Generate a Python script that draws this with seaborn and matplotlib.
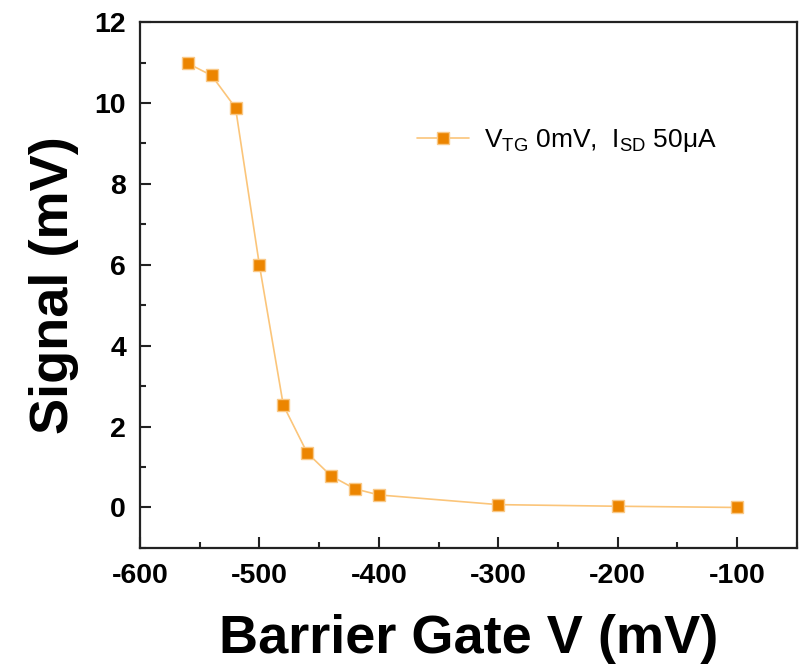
import matplotlib
matplotlib.use("Agg")
import matplotlib.pyplot as plt
import seaborn as sns
import pandas as pd
from matplotlib.ticker import MultipleLocator

# Barrier gate sweep: detector signal vs. gate voltage
gate_mv = [-560, -540, -520, -500, -480, -460, -440, -420, -400, -300, -200, -100]
signal_mv = [10.98, 10.68, 9.88, 5.99, 2.53, 1.35, 0.78, 0.46, 0.31, 0.07, 0.03, 0.0]
series_label = r"V$_{\mathrm{TG}}$ 0mV,  I$_{\mathrm{SD}}$ 50μA"

sns.set_theme(style="ticks")
plt.rcParams["font.family"] = ["Liberation Sans", "DejaVu Sans"]
plt.rcParams["mathtext.fontset"] = "custom"
plt.rcParams["mathtext.rm"] = "Liberation Sans"
plt.rcParams["mathtext.it"] = "Liberation Sans:italic"
plt.rcParams["mathtext.bf"] = "Liberation Sans:bold"
plt.rcParams["axes.unicode_minus"] = False
plt.rcParams["text.color"] = "black"
plt.rcParams["axes.labelcolor"] = "black"
plt.rcParams["xtick.color"] = "black"
plt.rcParams["ytick.color"] = "black"

df = pd.DataFrame({"gate": gate_mv, "signal": signal_mv, "series": series_label})

fig = plt.figure(figsize=(8.0, 6.69), dpi=100)
ax = fig.add_axes([0.175, 0.181, 0.821, 0.786])

sns.lineplot(data=df, x="gate", y="signal", hue="series",
             palette=["#FBC57A"], marker="s", markersize=9,
             markerfacecolor="#EC8500", markeredgecolor="#F9C886",
             markeredgewidth=1.0, linewidth=1.2, ax=ax)

ax.set_xlim(-600, -50)
ax.set_ylim(-1, 12)
ax.xaxis.set_major_locator(MultipleLocator(100))
ax.xaxis.set_minor_locator(MultipleLocator(50))
ax.yaxis.set_major_locator(MultipleLocator(2))
ax.yaxis.set_minor_locator(MultipleLocator(1))
ax.tick_params(which="both", direction="in", top=False, right=False,
               color="#222222", width=1.5)
ax.tick_params(which="major", length=8, labelsize=20.5)
ax.tick_params(axis="x", which="major", pad=11)
ax.tick_params(axis="y", which="major", pad=10)
ax.tick_params(which="minor", length=4.5)
for lbl in ax.get_xticklabels() + ax.get_yticklabels():
    lbl.set_fontweight("bold")
for sp in ax.spines.values():
    sp.set_linewidth(1.6)
    sp.set_color("#222222")

ax.set_xlabel("Barrier Gate V (mV)", fontsize=39, fontweight="bold", labelpad=18)
ax.set_ylabel("Signal (mV)", fontsize=39, fontweight="bold", labelpad=11)

leg = ax.legend(loc="upper left", bbox_to_anchor=(0.385, 0.845), frameon=False,
                fontsize=19, handlelength=2.0, handletextpad=0.55)
for h in leg.legend_handles:
    h.set_markerfacecolor("#EC8500")
    h.set_markeredgecolor("#F9C886")

fig.savefig("out.png", dpi=100)
